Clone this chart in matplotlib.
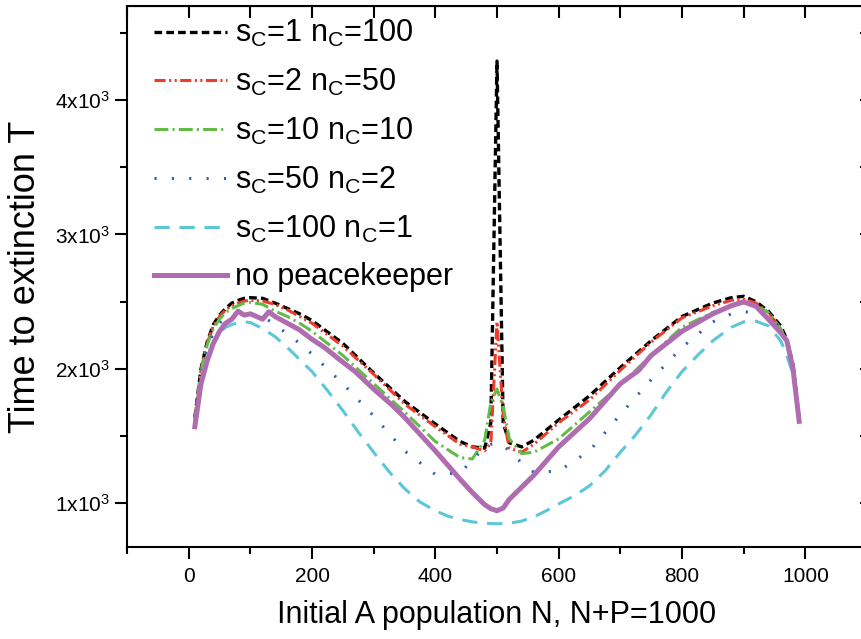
import matplotlib
matplotlib.use("Agg")
import matplotlib.pyplot as plt
from matplotlib.ticker import MultipleLocator, FuncFormatter

plt.rcParams['font.family'] = ['Liberation Sans', 'DejaVu Sans']
plt.rcParams['mathtext.default'] = 'regular'
plt.rcParams['lines.scale_dashes'] = False

# initial A population (shared grid for the peacekeeper runs)
N = [10, 20, 30, 40, 50, 60, 70, 80, 90, 100, 120, 140, 160, 180, 200, 250, 300,
     350, 400, 440, 460, 480, 490, 500, 510, 520, 540, 560, 600, 650, 700, 750,
     800, 850, 880, 900, 920, 940, 960, 970, 980, 990]

T_s1 = [1640, 2000, 2200, 2330, 2400, 2450, 2490, 2510, 2525, 2530, 2525, 2490,
        2450, 2410, 2360, 2190, 1970, 1760, 1590, 1460, 1420, 1410, 1600, 4290,
        1600, 1450, 1420, 1470, 1620, 1800, 2010, 2210, 2390, 2490, 2530, 2540,
        2500, 2430, 2320, 2220, 2030, 1620]
T_s2 = [1630, 1990, 2190, 2320, 2390, 2440, 2470, 2490, 2505, 2510, 2505, 2480,
        2440, 2390, 2340, 2170, 1960, 1740, 1570, 1440, 1420, 1390, 1450, 2350,
        1650, 1410, 1380, 1440, 1600, 1770, 1990, 2200, 2380, 2470, 2510, 2520,
        2490, 2420, 2300, 2200, 2010, 1620]
T_s10 = [1620, 1980, 2180, 2300, 2370, 2420, 2450, 2470, 2490, 2495, 2480, 2430,
         2390, 2340, 2280, 2100, 1890, 1680, 1460, 1340, 1330, 1470, 1750, 1850,
         1720, 1480, 1370, 1380, 1480, 1680, 1880, 2100, 2310, 2420, 2470, 2490,
         2470, 2420, 2300, 2200, 2010, 1620]
T_s50 = [1600, 1960, 2150, 2270, 2340, 2380, 2400, 2410, 2410, 2410, 2390, 2330,
         2260, 2190, 2110, 1890, 1650, 1390, 1215, 1225, 1320, 1420, 1440, 1450,
         1430, 1390, 1300, 1230, 1240, 1390, 1660, 1920, 2160, 2350, 2410, 2425,
         2420, 2400, 2300, 2200, 2000, 1610]

# s_C=100 run was sampled more finely
N_s100 = [10, 20, 30, 40, 50, 60, 70, 80, 90, 100, 120, 140, 160, 180, 200, 225,
          250, 275, 300, 325, 350, 375, 400, 420, 440, 460, 480, 500, 520, 540,
          560, 580, 600, 625, 650, 675, 700, 725, 750, 775, 800, 825, 850, 880,
          900, 920, 940, 960, 970, 980, 990]
T_s100 = [1590, 1930, 2100, 2200, 2270, 2310, 2330, 2345, 2350, 2345, 2300, 2240,
          2160, 2070, 1980, 1840, 1690, 1530, 1380, 1235, 1110, 1010, 945, 905,
          880, 862, 852, 848, 852, 868, 900, 945, 995, 1055, 1130, 1240, 1380,
          1510, 1660, 1830, 1980, 2100, 2210, 2310, 2350, 2355, 2320, 2210, 2100,
          1960, 1620]

# run without peacekeepers
N_none = [10, 20, 30, 40, 50, 60, 70, 80, 90, 100, 110, 120, 130, 140, 160, 180,
          200, 220, 250, 270, 300, 330, 350, 400, 440, 460, 480, 490, 500, 510,
          520, 540, 560, 600, 650, 700, 730, 750, 800, 850, 880, 900, 920, 940,
          960, 970, 980, 990]
T_none = [1570, 1890, 2060, 2190, 2280, 2340, 2370, 2430, 2400, 2410, 2390, 2370,
          2425, 2390, 2340, 2290, 2220, 2160, 2050, 1980, 1850, 1730, 1640, 1390,
          1180, 1080, 990, 960, 945, 965, 1030, 1120, 1210, 1420, 1630, 1890, 1990,
          2100, 2280, 2410, 2470, 2500, 2465, 2370, 2270, 2210, 2000, 1610]

labels = ['$s_C$=1 $n_C$=100', '$s_C$=2 $n_C$=50', '$s_C$=10 $n_C$=10',
          '$s_C$=50 $n_C$=2', '$s_C$=100 $n_C$=1', 'no peacekeeper']

fig = plt.figure(figsize=(8.61, 6.39), dpi=100)
ax = fig.add_axes([127 / 861, 1 - 547 / 639, 740 / 861, 541 / 639])

ax.plot(N, T_s1, color='black', lw=2.4, dashes=(5.5, 3), label=labels[0])
ax.plot(N, T_s2, color='#ee3b2b', lw=2.2, dashes=(8, 2.5, 1.5, 2.5, 1.5, 2.5), label=labels[1])
ax.plot(N, T_s10, color='#63bb47', lw=2.2, dashes=(10, 3, 1.5, 3), label=labels[2])
ax.plot(N, T_s50, color='#2f5fae', lw=2.2, dashes=(1.5, 11), label=labels[3])
ax.plot(N_s100, T_s100, color='#5cc7d9', lw=2.2, dashes=(11, 7), label=labels[4])
ax.plot(N_none, T_none, color='#b06cb1', lw=3.6, label=labels[5])

ax.set_xlim(-100, 1100)
ax.set_ylim(675, 4700)
ax.xaxis.set_major_locator(MultipleLocator(200))
ax.xaxis.set_minor_locator(MultipleLocator(100))
ax.yaxis.set_major_locator(MultipleLocator(1000))
ax.yaxis.set_minor_locator(MultipleLocator(500))
ax.yaxis.set_major_formatter(FuncFormatter(lambda v, p: '$%dx10^3$' % round(v / 1000)))

for s in ax.spines.values():
    s.set_linewidth(1.5)
ax.tick_params(which='both', direction='out', width=1.5, labelsize=15, top=False, right=False)
ax.tick_params(which='major', length=8.5)
ax.tick_params(which='minor', length=5)
ax.tick_params(axis='x', pad=6)

# mirrored inward ticks on top and right
axt = ax.secondary_xaxis('top')
axt.xaxis.set_major_locator(MultipleLocator(100))
axt.tick_params(direction='in', length=8.5, width=1.5, labeltop=False)
axr = ax.secondary_yaxis('right')
axr.yaxis.set_major_locator(MultipleLocator(500))
axr.tick_params(direction='in', length=5, width=1.5, labelright=False)

ax.set_xlabel('Initial A population N, N+P=1000', fontsize=22, labelpad=10)
ax.set_ylabel('Time to extinction T', fontsize=26, labelpad=9)

ax.legend(loc='upper left', frameon=False, fontsize=22, handlelength=2.4,
          handletextpad=0.25, labelspacing=0.58, borderaxespad=0.0,
          bbox_to_anchor=(0.02, 1.0))

fig.savefig('out.png', dpi=100)
